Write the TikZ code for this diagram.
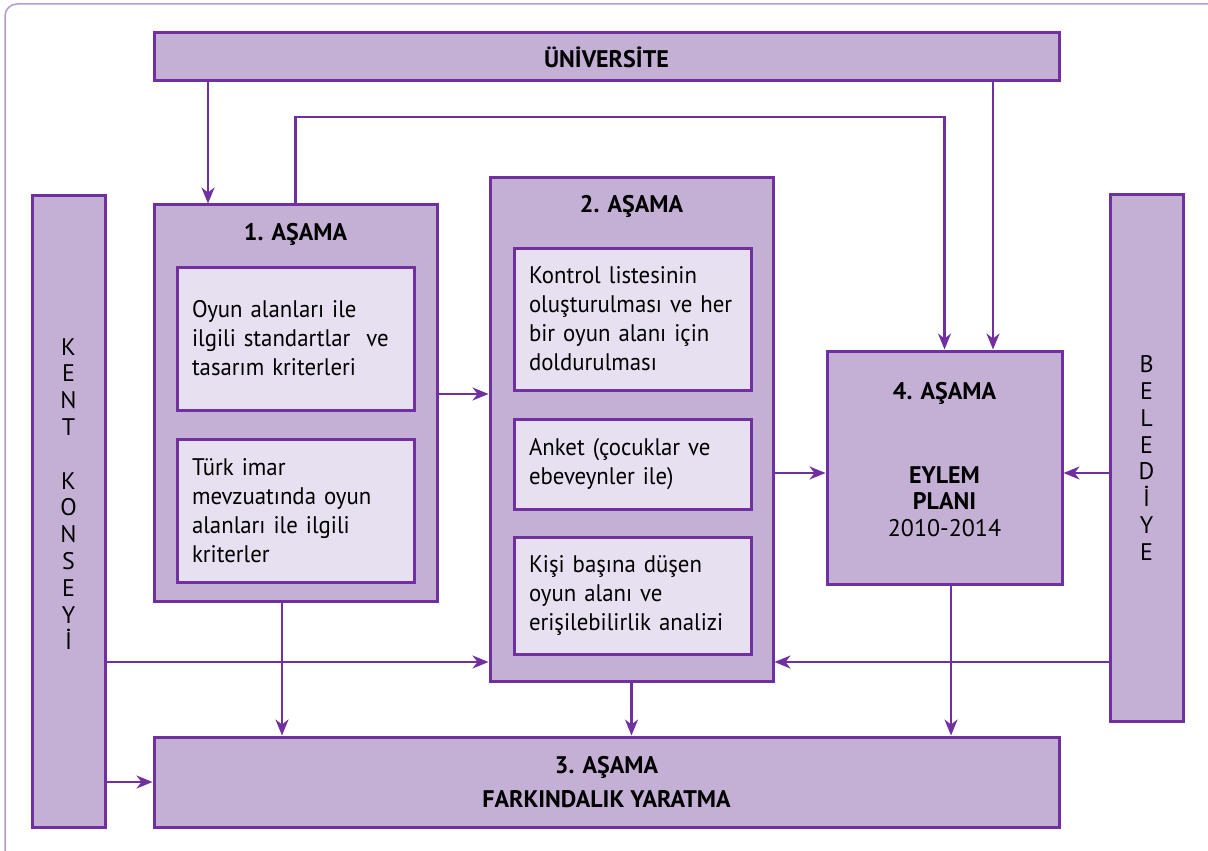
\documentclass[tikz,border=0pt]{standalone}
\usepackage{fontspec}
\setmainfont{PT Sans}
\newfontfamily\darsans[FakeStretch=0.95]{PT Sans}
\usepackage{xcolor}
\usetikzlibrary{arrows.meta}

\definecolor{asamacizgi}{RGB}{112,48,160}
\definecolor{asamadolgu}{RGB}{197,176,213}
\definecolor{kutudolgu}{RGB}{231,224,240}
\definecolor{cerceve}{RGB}{182,152,204}

\tikzset{
    asama/.style={draw=asamacizgi, fill=asamadolgu, line width=1.5pt, inner sep=0pt},
    kutu/.style={draw=asamacizgi, fill=kutudolgu, line width=1.5pt, text width=103.5pt,
        inner xsep=7.5pt, inner ysep=0pt, minimum width=118.5pt, align=left,
        font=\darsans\fontsize{12pt}{14.5pt}\selectfont},
    baslik/.style={font=\fontsize{12pt}{14.5pt}\selectfont\bfseries, inner sep=0pt},
    harf/.style={font=\fontsize{12pt}{13.4pt}\selectfont, align=center, inner sep=0pt},
    ok/.style={draw=asamacizgi, line width=1.1pt, -{Stealth[length=8pt,width=6.5pt,inset=2.5pt]}},
}

\begin{document}
\begin{tikzpicture}[x=0.5pt,y=-0.5pt]
        \useasboundingbox (0,0) rectangle (1208,850);
        \draw[cerceve, line width=0.75pt, rounded corners=6pt] (5,4) rectangle (1230,880);

        % kutular
        \node[asama, baslik, minimum width=452.5pt, minimum height=24pt] (uni) at (606.5,57) {ÜNİVERSİTE};
        \node[asama, minimum width=141.5pt, minimum height=198pt] (a1) at (295.5,403) {};
        \node[asama, minimum width=141.5pt, minimum height=251.5pt] (a2) at (631.5,429.5) {};
        \node[asama, minimum width=117.5pt, minimum height=116.5pt] (a4) at (944.5,467.5) {};
        \node[asama, baslik, align=center, minimum width=452.5pt, minimum height=45pt] (a3) at (606.5,782)
            {3. AŞAMA\\[2.5pt]FARKINDALIK YARATMA};
        \node[asama, minimum width=36.5pt, minimum height=315.5pt] (kent) at (68.5,511.5) {};
        \node[asama, minimum width=36.5pt, minimum height=263pt] (bel) at (1146.5,458) {};

        \node[baslik, anchor=base] (a1baslik) at (295.5,240) {1. AŞAMA};
        \node[baslik, anchor=base] (a2baslik) at (631.5,212.5) {2. AŞAMA};
        \node[baslik, anchor=base] (a4baslik) at (944.5,399) {4. AŞAMA};
        \node[baslik, align=center, font=\fontsize{12pt}{13.25pt}\selectfont\bfseries] (a4plan) at (944.5,501.5)
            {EYLEM\\PLANI\\\mdseries 2010-2014};

        \node[kutu, minimum height=71.5pt] (a1a) at (295.5,338.5)
            {Oyun alanları ile\\ilgili standartlar~ ve\\tasarım kriterleri};
        \node[kutu, minimum height=71.5pt] (a1b) at (295.5,510.5)
            {Türk imar\\mevzuatında oyun\\alanları ile ilgili\\kriterler};
        \node[kutu, minimum height=71pt] (a2a) at (632.5,319)
            {Kontrol listesinin\\oluşturulması ve her\\bir oyun alanı için\\doldurulması};
        \node[kutu, minimum height=45pt] (a2b) at (632.5,464)
            {Anket (çocuklar ve\\ebeveynler ile)};
        \node[kutu, minimum height=58.5pt] (a2c) at (632.5,595.5)
            {Kişi başına düşen\\oyun alanı ve\\erişilebilirlik analizi};

        \node[harf] (kentyazi) at (68.5,494) {K\\E\\N\\T\\[13.4pt]K\\O\\N\\S\\E\\Y\\İ};
        \node[harf] (belyazi) at (1146.5,458) {B\\E\\L\\E\\D\\İ\\Y\\E};

        % oklar
        \coordinate (donus) at (620,117);
        \draw[ok] (uni.south -| 208,0) -- (a1.north -| 208,0);
        \draw[ok] (a1.north) |- (donus) -| (a4.north);
        \draw[ok] (uni.south -| 993,0) -- (a4.north -| 993,0);
        \draw[ok] (a1.east |- 0,394) -- (a2.west |- 0,394);
        \draw[ok] (a2.east |- 0,473) -- (a4.west |- 0,473);
        \draw[ok] (bel.west |- 0,473) -- (a4.east |- 0,473);
        \draw[ok] (bel.west |- 0,662) -- (a2.east |- 0,662);
        \draw[ok] (kent.east |- 0,662) -- (a2.west |- 0,662);
        \draw[ok] (kent.east |- a3.west) -- (a3.west);
        \draw[ok] (a1.south -| 282,0) -- (a3.north -| 282,0);
        \draw[ok] (a2.south) -- (a3.north -| a2.south);
        \draw[ok] (a4.south -| 951,0) -- (a3.north -| 951,0);
    \end{tikzpicture}
\end{document}
